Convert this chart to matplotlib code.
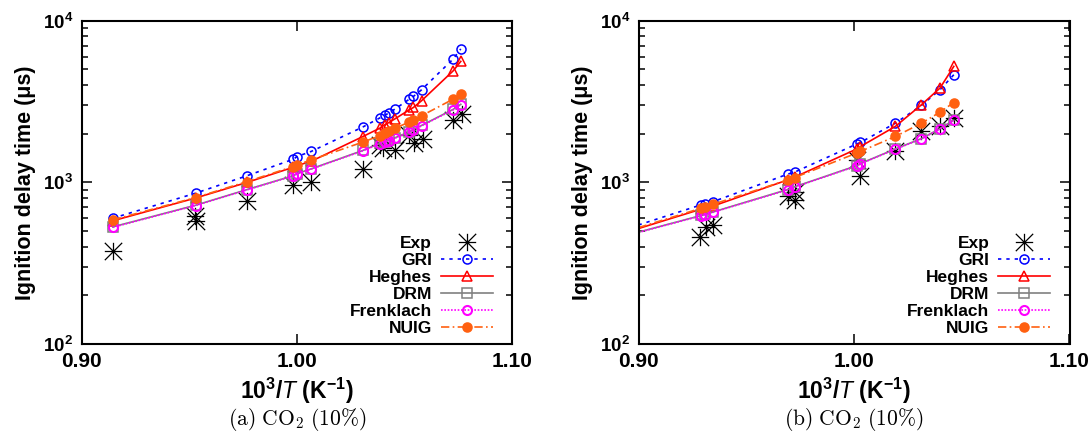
import numpy as np
import matplotlib
matplotlib.use("Agg")
from matplotlib import pyplot as plt
from matplotlib.path import Path
from matplotlib.ticker import LogLocator, NullFormatter

plt.rcParams['font.family'] = ['Liberation Sans', 'DejaVu Sans']
plt.rcParams['mathtext.fontset'] = 'custom'
plt.rcParams['mathtext.rm'] = 'Liberation Sans:bold'
plt.rcParams['mathtext.bf'] = 'Liberation Sans:bold'
plt.rcParams['mathtext.it'] = 'Liberation Sans:italic'

# ---- panel (a) ----
x_a = [0.9145, 0.9530, 0.9770, 0.9984, 1.0002, 1.0067, 1.0307, 1.0385,
       1.0409, 1.0428, 1.0456, 1.0523, 1.0542, 1.0580, 1.0727, 1.0762]
gri_a = [600, 857, 1100, 1390, 1445, 1553, 2200, 2500, 2605, 2680, 2840, 3270, 3400, 3740, 5800, 6690]
heghes_a = [578, 800, 1000, 1240, 1270, 1350, 1920, 2160, 2270, 2345, 2470, 2810, 2905, 3200, 4900, 5600]
drm_a = [530, 722, 903, 1100, 1133, 1212, 1575, 1740, 1775, 1817, 1885, 2055, 2125, 2250, 2830, 3040]
frenklach_a = [527, 719, 899, 1097, 1129, 1207, 1567, 1731, 1765, 1808, 1877, 2045, 2115, 2237, 2812, 3020]
nuig_a = [586, 805, 1012, 1253, 1283, 1377, 1774, 1942, 2014, 2083, 2163, 2358, 2415, 2582, 3273, 3514]
exp_a_x = [0.9145, 0.9525, 0.9530, 0.9770, 0.9984, 1.0067, 1.0307, 1.0385,
           1.0402, 1.0457, 1.0523, 1.0545, 1.0588, 1.0728, 1.0767]
exp_a_y = [375, 615, 575, 772, 960, 1012, 1215, 1700, 1630, 1590, 1950, 1740, 1860, 2440, 2650]

# ---- panel (b) ----  (first point of each model is the line end only)
x_b = [0.9000, 0.9291, 0.9310, 0.9348, 0.9692, 0.9724, 1.0014, 1.0030, 1.0192, 1.0313, 1.0399, 1.0463]
gri_b = [545, 726, 736, 761, 1124, 1156, 1730, 1766, 2323, 2992, 3740, 4630]
heghes_b = [518, 683, 692, 715, 1035, 1076, 1611, 1666, 2218, 3020, 3830, 5215]
drm_b = [492, 624, 633, 657, 903, 938, 1270, 1307, 1610, 1865, 2150, 2425]
frenklach_b = [490, 621, 630, 654, 899, 934, 1265, 1302, 1603, 1858, 2143, 2415]
nuig_b = [525, 692, 702, 733, 1035, 1070, 1520, 1555, 1922, 2323, 2717, 3118]
exp_b_x = [0.9286, 0.9312, 0.9348, 0.9692, 0.9724, 0.9724, 1.0014, 1.0030, 1.0192, 1.0313, 1.0399, 1.0463]
exp_b_y = [457, 533, 546, 824, 779, 870, 1377, 1087, 1553, 2083, 2239, 2495]

labels = ["Exp", "GRI", "Heghes", "DRM", "Frenklach", "NUIG"]

# gnuplot-like asterisk: + and x together
star = Path([(-1, 0), (1, 0), (0, -1), (0, 1), (-1, -1), (1, 1), (-1, 1), (1, -1)],
            [Path.MOVETO, Path.LINETO] * 4)


def draw(ax, x, models, ex, ey, caption, cx, mark_from):
    ax.plot(ex, ey, ls='none', marker=star, ms=12.5, mew=0.9, color='black', label=labels[0])
    styles = [
        dict(color='#0000ff', ls=(0, (2, 3)), marker='o', mfc='none'),
        dict(color='#ff0000', ls='-', marker='^', mfc='none'),
        dict(color='#808080', ls='-', marker='s', mfc='none'),
        dict(color='#ff00ff', ls=(0, (1, 1)), marker='o', mfc='none', mew=1.5),
        dict(color='#ff6010', ls=(0, (5, 2, 1, 2)), marker='o'),
    ]
    for y, st, lab in zip(models, styles, labels[1:]):
        kw = dict(lw=1.2, ms=6.5, mew=1.1)
        kw.update(st)
        ax.plot(x, y, markevery=slice(mark_from, None), label=lab, **kw)

    ax.set_yscale('log')
    ax.set_xlim(0.90, 1.10)
    ax.set_ylim(100, 10000)
    ax.set_xticks([0.90, 1.00, 1.10], ['0.90', '1.00', '1.10'])
    ax.set_yticks([100, 1000, 10000], [r'$10^{2}$', r'$10^{3}$', r'$10^{4}$'])
    ax.yaxis.set_minor_locator(LogLocator(base=10, subs=np.arange(2, 10)))
    ax.yaxis.set_minor_formatter(NullFormatter())
    ax.tick_params(which='both', direction='in', top=True, right=True, width=1.1)
    ax.tick_params(which='major', length=7, pad=6)
    ax.tick_params(which='minor', length=4)
    ax.tick_params(axis='x', labelsize=15)
    ax.tick_params(axis='y', labelsize=13.5)
    for lab in ax.get_xticklabels():
        lab.set_fontweight('bold')
    for s in ax.spines.values():
        s.set_linewidth(1.5)
    ax.set_xlabel(r'$10^3/\mathit{T}$ (K$^{-1}$)', fontsize=16.5, fontweight='bold', labelpad=3)
    ax.set_ylabel('Ignition delay time (μs)', fontsize=15.5, fontweight='bold', labelpad=5)
    ax.legend(loc='lower right', bbox_to_anchor=(0.955, 0.025), markerfirst=False, frameon=False,
              prop={'weight': 'bold', 'size': 12.5}, handlelength=3.0, labelspacing=0.1,
              handletextpad=0.5, borderaxespad=0, borderpad=0)
    fig.text(cx, 0.03, caption, ha='center', va='center', fontsize=15.5, math_fontfamily='cm')


fig = plt.figure(figsize=(10.89, 4.32), dpi=100)
ax1 = fig.add_axes([81.5 / 1089, 88 / 432, 430.5 / 1089, 323.3 / 432])
ax2 = fig.add_axes([638.5 / 1089, 88 / 432, 431 / 1089, 323.3 / 432])

draw(ax1, x_a, [gri_a, heghes_a, drm_a, frenklach_a, nuig_a], exp_a_x, exp_a_y,
     r'$\mathrm{(a)\ CO_2\ (10\%)}$', 296.7 / 1089, 0)
draw(ax2, x_b, [gri_b, heghes_b, drm_b, frenklach_b, nuig_b], exp_b_x, exp_b_y,
     r'$\mathrm{(b)\ CO_2\ (10\%)}$', 854 / 1089, 1)

fig.savefig('out.png', dpi=100)
